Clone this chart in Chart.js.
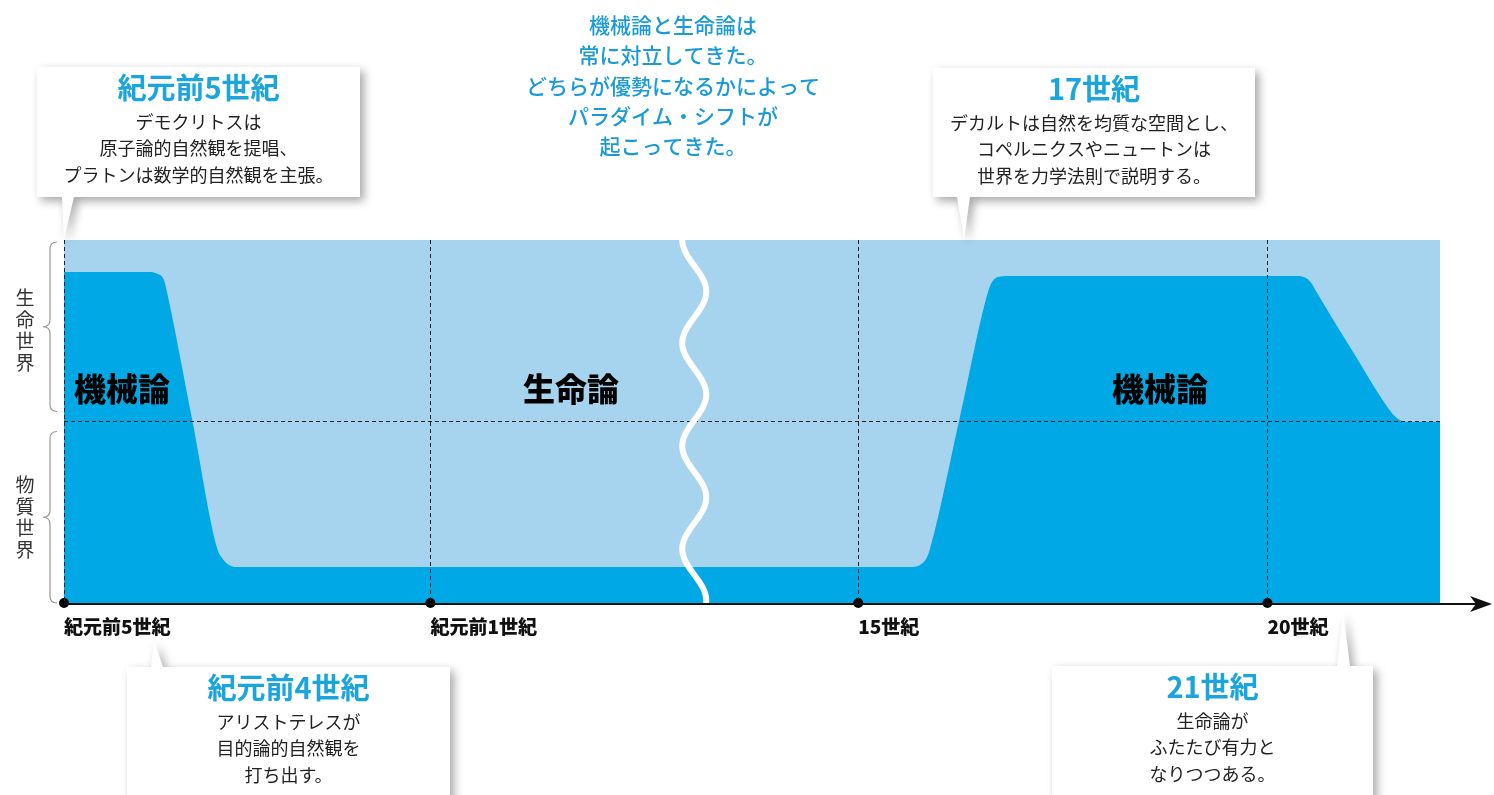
<!DOCTYPE html>
<html lang="ja">
<head>
<meta charset="utf-8">
<title>機械論と生命論</title>
<script src="https://cdn.jsdelivr.net/npm/chart.js"></script>
<style>
  html, body { margin: 0; padding: 0; background: #fff; }
  #wrap { position: relative; width: 1494px; height: 795px; }
</style>
</head>
<body>
<div id="wrap"><canvas id="chart"></canvas></div>
<script>
// タイムライン上の位置（軸の左端 = 0）
const tickPos = [0, 25.7, 55.7, 84.4];
const tickLabels = ['紀元前5世紀', '紀元前1世紀', '15世紀', '20世紀'];

// 機械論の優勢度（0 = 物質世界の底、100 = 生命世界の上端）
const mechX = [0, 5.89, 6.59, 7.01, 7.22, 8.98, 10.73, 11.08, 11.57, 12.34,
               59.33, 60.03, 60.45, 60.73, 62.76, 64.80, 65.08, 65.50, 66.20,
               86.40, 87.10, 87.52, 87.80, 90.32, 92.92, 93.41, 93.91, 94.53, 96.5];
const mechY = [91.2, 91.2, 90.6, 89.0, 85.7, 50.7, 15.2, 12.4, 10.5, 9.9,
               9.9, 10.5, 12.1, 14.9, 49.9, 85.7, 88.4, 89.8, 90.1,
               90.1, 89.5, 87.9, 85.95, 69.7, 53.4, 51.2, 50.1, 49.9, 49.9];

// 背景（生命論側）
const lifeX = [0, 96.5];
const lifeY = [100, 100];

const breakAt = 44.2;   // 時代の省略（波線）
const midLevel = 50;    // 生命世界 / 物質世界 の境目
const xEnd = 96.5;

const FONT = "'Noto Sans CJK JP', 'Noto Sans', sans-serif";
const LIGHT = '#a6d4ee';
const DARK = '#00a8e5';
const TITLE_BLUE = '#1aa5dc';

const zip = (xs, ys) => xs.map((x, i) => ({ x, y: ys[i] }));

function brace(ctx, x, y1, y2, tip) {
  const m = (y1 + y2) / 2, r = 7;
  ctx.beginPath();
  ctx.moveTo(x + r, y1);
  ctx.quadraticCurveTo(x, y1, x, y1 + r);
  ctx.lineTo(x, m - r);
  ctx.quadraticCurveTo(x, m, tip, m);
  ctx.quadraticCurveTo(x, m, x, m + r);
  ctx.lineTo(x, y2 - r);
  ctx.quadraticCurveTo(x, y2, x + r, y2);
  ctx.stroke();
}

function callout(ctx, box, tail, title, lines) {
  const [l, t, r, b] = box;
  ctx.save();
  ctx.shadowColor = 'rgba(0,0,0,0.35)';
  ctx.shadowBlur = 10;
  ctx.shadowOffsetX = 4;
  ctx.shadowOffsetY = 4;
  ctx.fillStyle = '#fff';
  ctx.beginPath();
  if (tail.dir === 'down') {
    ctx.moveTo(l, t); ctx.lineTo(r, t); ctx.lineTo(r, b);
    ctx.lineTo(tail.x2, b); ctx.lineTo(tail.tx, tail.ty); ctx.lineTo(tail.x1, b);
    ctx.lineTo(l, b);
  } else {
    ctx.moveTo(l, t); ctx.lineTo(tail.x1, t); ctx.lineTo(tail.tx, tail.ty);
    ctx.lineTo(tail.x2, t); ctx.lineTo(r, t); ctx.lineTo(r, b); ctx.lineTo(l, b);
  }
  ctx.closePath();
  ctx.fill();
  ctx.restore();

  const cx = (l + r) / 2;
  ctx.save();
  ctx.textAlign = 'center';
  ctx.textBaseline = 'middle';
  ctx.fillStyle = TITLE_BLUE;
  ctx.font = 'bold 29px ' + FONT;
  ctx.fillText(title, cx, t + 21);
  ctx.fillStyle = '#222';
  ctx.font = '400 18px ' + FONT;
  lines.forEach((s, i) => ctx.fillText(s, cx, t + 55 + i * 26.5));
  ctx.restore();
}

const decor = {
  id: 'decor',
  afterDraw(chart) {
    const { ctx, chartArea: a, scales: { x, y } } = chart;

    // 波線（省略記号）
    const bx = x.getPixelForValue(breakAt);
    ctx.save();
    ctx.strokeStyle = '#fff';
    ctx.lineWidth = 6;
    ctx.lineCap = 'round';
    ctx.beginPath();
    for (let py = a.top; py <= a.bottom; py += 2) {
      const px = bx - 12 * Math.cos(2 * Math.PI * (py - a.top) / 103);
      if (py === a.top) ctx.moveTo(px, py); else ctx.lineTo(px, py);
    }
    ctx.stroke();
    ctx.restore();

    // 時間軸と矢印
    const ay = y.getPixelForValue(0) + 1;
    const tip = chart.width - 2;
    ctx.save();
    ctx.strokeStyle = '#111';
    ctx.fillStyle = '#111';
    ctx.lineWidth = 2;
    ctx.beginPath();
    ctx.moveTo(a.left, ay);
    ctx.lineTo(tip - 16, ay);
    ctx.stroke();
    ctx.beginPath();
    ctx.moveTo(tip, ay);
    ctx.lineTo(tip - 22, ay - 8);
    ctx.lineTo(tip - 16, ay);
    ctx.lineTo(tip - 22, ay + 8);
    ctx.closePath();
    ctx.fill();
    ctx.restore();

    // 左の括弧と縦書きラベル
    ctx.save();
    ctx.strokeStyle = '#999';
    ctx.lineWidth = 1.2;
    const ym = y.getPixelForValue(midLevel);
    brace(ctx, 50, a.top + 2, ym - 10, 43);
    brace(ctx, 50, ym + 10, a.bottom, 43);
    ctx.fillStyle = '#333';
    ctx.font = '400 19px ' + FONT;
    ctx.textAlign = 'center';
    ctx.textBaseline = 'middle';
    [...'生命世界'].forEach((c, i) => ctx.fillText(c, 25, 298 + i * 21.5));
    [...'物質世界'].forEach((c, i) => ctx.fillText(c, 25, 485 + i * 21.5));
    ctx.restore();

    // 領域ラベル
    ctx.save();
    ctx.fillStyle = '#000';
    ctx.font = '900 32px ' + FONT;
    ctx.textAlign = 'center';
    ctx.textBaseline = 'middle';
    ctx.fillText('機械論', 122, 389);
    ctx.fillText('生命論', 571, 389);
    ctx.fillText('機械論', 1160, 389);
    ctx.restore();

    // 中央上の説明文
    ctx.save();
    ctx.fillStyle = '#1a9bd7';
    ctx.font = '500 21px ' + FONT;
    ctx.textAlign = 'center';
    ctx.textBaseline = 'middle';
    ['機械論と生命論は', '常に対立してきた。', 'どちらが優勢になるかによって',
     'パラダイム・シフトが', '起こってきた。'].forEach((s, i) => ctx.fillText(s, 673, 25 + i * 30.3));
    ctx.restore();

    // 吹き出し
    callout(ctx, [37, 67, 360, 197], { dir: 'down', x1: 62, x2: 74, tx: 64, ty: 239 },
      '紀元前5世紀', ['デモクリトスは', '原子論的自然観を提唱、', 'プラトンは数学的自然観を主張。']);
    callout(ctx, [933, 68, 1255, 197], { dir: 'down', x1: 957, x2: 970, tx: 964, ty: 239 },
      '17世紀', ['デカルトは自然を均質な空間とし、', 'コペルニクスやニュートンは', '世界を力学法則で説明する。']);
    callout(ctx, [127, 667, 450, 810], { dir: 'up', x1: 151, x2: 163, tx: 154, ty: 640 },
      '紀元前4世紀', ['アリストテレスが', '目的論的自然観を', '打ち出す。']);
    callout(ctx, [1052, 666, 1373, 810], { dir: 'up', x1: 1337, x2: 1350, tx: 1343, ty: 611 },
      '21世紀', ['生命論が', 'ふたたび有力と', 'なりつつある。']);
  }
};

new Chart(document.getElementById('chart'), {
  type: 'line',
  data: {
    datasets: [
      {
        label: '生命論',
        data: zip(lifeX, lifeY),
        backgroundColor: LIGHT,
        borderWidth: 0,
        pointRadius: 0,
        fill: 'origin',
        order: 3
      },
      {
        label: '機械論',
        data: zip(mechX, mechY),
        backgroundColor: DARK,
        borderWidth: 0,
        pointRadius: 0,
        cubicInterpolationMode: 'monotone',
        fill: 'origin',
        order: 2
      },
      {
        label: '時代',
        type: 'scatter',
        data: tickPos.map(v => ({ x: v, y: 0 })),
        pointRadius: 5,
        pointBackgroundColor: '#000',
        pointBorderWidth: 0,
        clip: false,
        order: 1
      }
    ]
  },
  options: {
    responsive: true,
    maintainAspectRatio: false,
    animation: false,
    layout: { padding: { left: 64, right: 54, top: 240, bottom: 152 } },
    plugins: { legend: { display: false }, tooltip: { enabled: false } },
    scales: {
      x: {
        type: 'linear',
        min: 0,
        max: xEnd,
        afterBuildTicks: s => { s.ticks = tickPos.map(v => ({ value: v })); },
        afterFit: s => { s.height = 40; },
        grid: { color: '#222', lineWidth: 1, drawTicks: false, z: 1 },
        border: { display: false, dash: [4, 3] },
        ticks: {
          align: 'start',
          padding: 12,
          color: '#111',
          font: { family: FONT, size: 19, weight: '900' },
          callback: (v, i) => tickLabels[i]
        }
      },
      y: {
        min: 0,
        max: 100,
        afterBuildTicks: s => { s.ticks = [0, midLevel, 100].map(v => ({ value: v })); },
        afterFit: s => { s.width = 0; },
        grid: {
          color: c => (c.tick && c.tick.value === midLevel ? '#222' : 'rgba(0,0,0,0)'),
          lineWidth: 1,
          drawTicks: false,
          z: 1
        },
        border: { display: false, dash: [4, 3] },
        ticks: { display: false }
      }
    }
  },
  plugins: [decor]
});
</script>
</body>
</html>
